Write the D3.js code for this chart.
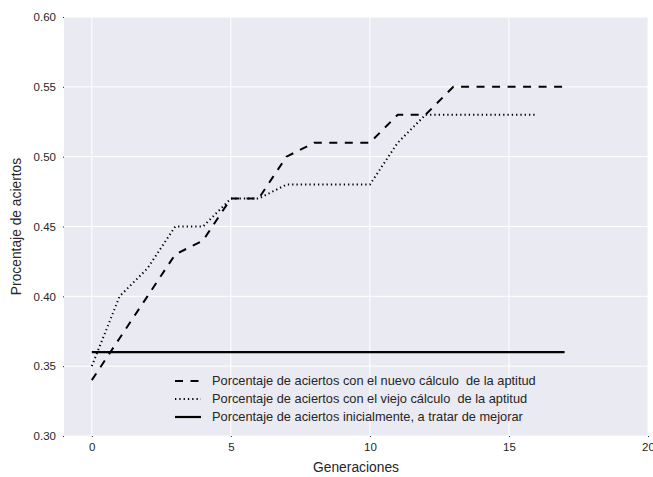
<!DOCTYPE html>
<html><head><meta charset="utf-8">
<script src="https://cdn.jsdelivr.net/npm/d3@7"></script>
<style>body{margin:0;background:#fff}svg{display:block} text{font-family:"Liberation Sans",Arial,sans-serif;fill:#262626}</style>
</head><body>
<svg id="c" width="653" height="477"></svg>
<script>
const generations = [0,1,2,3,4,5,6,7,8,9,10,11,12,13,14,15,16,17];
const nuevo = [0.34,0.37,0.40,0.43,0.44,0.47,0.47,0.50,0.51,0.51,0.51,0.53,0.53,0.55,0.55,0.55,0.55,0.55];
const viejoGen = [0,1,2,3,4,5,6,7,8,9,10,11,12,13,14,15,16];
const viejo = [0.35,0.40,0.42,0.45,0.45,0.47,0.47,0.48,0.48,0.48,0.48,0.51,0.53,0.53,0.53,0.53,0.53];
const inicialGen = [0,17];
const inicial = [0.36,0.36];
const xTicks = [0,5,10,15,20];
const yTicks = [0.30,0.35,0.40,0.45,0.50,0.55,0.60];
const legendLabels = ["Porcentaje de aciertos con el nuevo cálculo  de la aptitud","Porcentaje de aciertos con el viejo cálculo  de la aptitud","Porcentaje de aciertos inicialmente, a tratar de mejorar"];

const svg = d3.select("#c");
const L=64,R=648,T=17,B=436;
const x = d3.scaleLinear().domain([-1,20]).range([L,R]);
const y = d3.scaleLinear().domain([0.30,0.60]).range([B,T]);
svg.append("rect").attr("x",L).attr("y",T).attr("width",R-L).attr("height",B-T).attr("fill","#EAEAF2");
const g = svg.append("g");
g.selectAll(".vg").data(xTicks).join("line").attr("x1",d=>x(d)).attr("x2",d=>x(d)).attr("y1",T).attr("y2",B).attr("stroke","#fff").attr("stroke-width",1);
g.selectAll(".hg").data(yTicks).join("line").attr("y1",d=>y(d)).attr("y2",d=>y(d)).attr("x1",L).attr("x2",R).attr("stroke","#fff").attr("stroke-width",1);

const xa = svg.append("g").attr("transform",`translate(0,${B})`).call(d3.axisBottom(x).tickValues(xTicks).tickSize(1).tickPadding(6).tickFormat(d3.format("d")));
const ya = svg.append("g").attr("transform",`translate(${L},0)`).call(d3.axisLeft(y).tickValues(yTicks).tickSize(1).tickPadding(7).tickFormat(d3.format(".2f")));
[xa,ya].forEach(a=>{a.select(".domain").remove();a.selectAll(".tick line").attr("stroke","#262626");a.selectAll("text").attr("font-size",11.5).attr("fill","#262626").attr("font-family","Liberation Sans, Arial, sans-serif");});

const line = d3.line().x(d=>x(d[0])).y(d=>y(d[1]));
const styles = [
  {dash:"8,7.5", w:2},
  {dash:"1.3,3", w:2},
  {dash:null, w:2.2}
];
const series = [d3.zip(generations,nuevo), d3.zip(viejoGen,viejo), d3.zip(inicialGen,inicial)];
series.forEach((s,i)=>{
  svg.append("path").datum(s).attr("d",line).attr("fill","none").attr("stroke","#000").attr("stroke-width",styles[i].w).attr("stroke-dasharray",styles[i].dash);
});

const lg = svg.append("g");
legendLabels.forEach((t,i)=>{
  const yy = 381 + i*18;
  lg.append("line").attr("x1",175).attr("x2",201).attr("y1",yy).attr("y2",yy).attr("stroke","#000").attr("stroke-width",styles[i].w).attr("stroke-dasharray",styles[i].dash);
  lg.append("text").attr("x",212).attr("y",yy).attr("dy","0.35em").attr("font-size",12.8).style("white-space","pre").text(t);
});

svg.append("text").attr("x",(L+R)/2).attr("y",472).attr("text-anchor","middle").attr("font-size",13.8).text("Generaciones");
svg.append("text").attr("transform",`translate(21,${(T+B)/2}) rotate(-90)`).attr("text-anchor","middle").attr("font-size",13.8).text("Procentaje de aciertos");
</script>
</body></html>
